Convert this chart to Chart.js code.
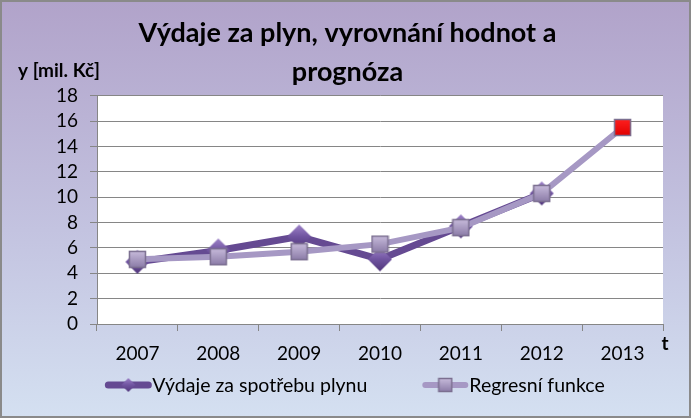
<!DOCTYPE html>
<html>
<head>
<meta charset="utf-8">
<script src="https://cdn.jsdelivr.net/npm/chart.js@4.4.0/dist/chart.umd.min.js"></script>
<style>
  html, body { margin: 0; padding: 0; }
  #wrap {
    width: 691px; height: 418px; box-sizing: border-box;
    border: 2px solid #8a8a8a;
    background: linear-gradient(#b1a3ca, #c3c3e0 55%, #d4e0f1);
  }
  #wrap canvas { display: block; }
</style>
</head>
<body>
<div id="wrap"><canvas id="gasChart" width="687" height="414"></canvas></div>
<script>
// data
const years = ['2007', '2008', '2009', '2010', '2011', '2012', '2013'];
const spending = [4.9, 5.8, 6.9, 5.1, 7.7, 10.3, null];
const regression = [5.1, 5.3, 5.7, 6.3, 7.6, 10.3, 15.5];
const seriesNames = ['Výdaje za spotřebu plynu', 'Regresní funkce'];
const yMin = 0, yMax = 18, yStep = 2;

const FONT = 'Lato, "Open Sans", sans-serif';
const darkLine = '#654a92';
const lightLine = '#a698c4';

// bevelled markers, drawn once into small canvases
function diamond(r) {
  const c = document.createElement('canvas');
  c.width = c.height = 2 * r + 2;
  const g = c.getContext('2d');
  const m = r + 1;
  const grad = g.createLinearGradient(0, 0, 0, c.height);
  grad.addColorStop(0, '#a287cc');
  grad.addColorStop(0.5, '#7054a0');
  grad.addColorStop(1, '#4e3478');
  g.fillStyle = grad;
  g.beginPath();
  g.moveTo(m, 1); g.lineTo(c.width - 1, m); g.lineTo(m, c.height - 1); g.lineTo(1, m);
  g.closePath();
  g.fill();
  return c;
}

function square(s, top, bottom, edge) {
  const c = document.createElement('canvas');
  c.width = c.height = s + 2;
  const g = c.getContext('2d');
  const grad = g.createLinearGradient(0, 1, 0, s + 1);
  grad.addColorStop(0, top);
  grad.addColorStop(1, bottom);
  g.fillStyle = grad;
  g.fillRect(1, 1, s, s);
  g.strokeStyle = edge;
  g.lineWidth = 1.5;
  g.strokeRect(1.5, 1.5, s - 1, s - 1);
  return c;
}

const diamondPt = diamond(12);
const squarePt = square(17, '#c8bcdc', '#8a7aa6', '#7b6f90');
const redPt = square(17, '#ff2020', '#e00000', '#7b6f90');
const legendDiamond = diamond(7);
const legendSquare = square(14, '#c8bcdc', '#8a7aa6', '#7b6f90');

const plotBg = {
  id: 'plotBg',
  beforeDraw(chart) {
    const a = chart.chartArea, ctx = chart.ctx;
    ctx.save();
    ctx.fillStyle = '#ffffff';
    ctx.fillRect(a.left, a.top, a.right - a.left, a.bottom - a.top);
    ctx.restore();
  }
};

const extras = {
  id: 'extras',
  afterDraw(chart) {
    const ctx = chart.ctx;
    ctx.save();
    ctx.fillStyle = '#000';
    ctx.textBaseline = 'middle';
    ctx.font = 'bold 19px ' + FONT;
    ctx.textAlign = 'left';
    ctx.fillText('y [mil. Kč]', 16, 69);
    ctx.textAlign = 'center';
    ctx.fillText('t', 663, 342);

    // legend: line sample with marker, then label
    ctx.font = '19.5px ' + FONT;
    ctx.textAlign = 'left';
    const ds = chart.data.datasets;
    const w0 = ctx.measureText(ds[0].label).width;
    const w1 = ctx.measureText(ds[1].label).width;
    const sample = 46, gap = 1, itemGap = 55;
    const total = sample + gap + w0 + itemGap + sample + gap + w1;
    let x = 353 - total / 2;
    const y = 383;
    const items = [
      { color: darkLine, width: 7, img: legendDiamond, label: ds[0].label, w: w0 },
      { color: lightLine, width: 6, img: legendSquare, label: ds[1].label, w: w1 }
    ];
    items.forEach(it => {
      ctx.strokeStyle = it.color;
      ctx.lineWidth = it.width;
      ctx.lineCap = 'round';
      ctx.beginPath();
      ctx.moveTo(x + 3, y);
      ctx.lineTo(x + sample - 3, y);
      ctx.stroke();
      ctx.drawImage(it.img, x + sample / 2 - it.img.width / 2, y - it.img.height / 2);
      ctx.fillText(it.label, x + sample + gap, y + 1);
      x += sample + gap + it.w + itemGap;
    });
    ctx.restore();
  }
};

new Chart(document.getElementById('gasChart'), {
  type: 'line',
  data: {
    labels: years,
    datasets: [
      {
        label: seriesNames[0],
        data: spending,
        borderColor: darkLine,
        backgroundColor: darkLine,
        borderWidth: 7,
        pointStyle: diamondPt,
        pointRadius: 12,
        order: 2
      },
      {
        label: seriesNames[1],
        data: regression,
        borderColor: lightLine,
        backgroundColor: lightLine,
        borderWidth: 6,
        pointStyle: regression.map((v, i) => i === regression.length - 1 ? redPt : squarePt),
        pointRadius: 12,
        order: 1
      }
    ]
  },
  options: {
    responsive: false,
    animation: false,
    layout: { padding: { left: 30, right: 26, top: 0, bottom: 52 } },
    plugins: {
      legend: { display: false },
      tooltip: { enabled: false },
      title: {
        display: true,
        text: ['Výdaje za plyn, vyrovnání hodnot a', 'prognóza'],
        color: '#000',
        font: { family: FONT, size: 27, weight: 'bold', lineHeight: 1.444 },
        padding: { top: 11.5, bottom: 4.3 }
      }
    },
    scales: {
      x: {
        offset: true,
        grid: { offset: true, drawOnChartArea: false, tickLength: 7, color: '#868686' },
        border: { color: '#868686' },
        ticks: { color: '#000', padding: 11, font: { family: FONT, size: 19 } },
        afterFit(scale) { scale.height = 40; }
      },
      y: {
        min: yMin,
        max: yMax,
        grid: { color: '#868686', tickLength: 7 },
        border: { color: '#868686' },
        ticks: { stepSize: yStep, autoSkip: false, color: '#000', padding: 12, font: { family: FONT, size: 19, lineHeight: 1 } },
        afterFit(scale) { scale.width = 65; }
      }
    }
  },
  plugins: [plotBg, extras]
});
</script>
</body>
</html>
